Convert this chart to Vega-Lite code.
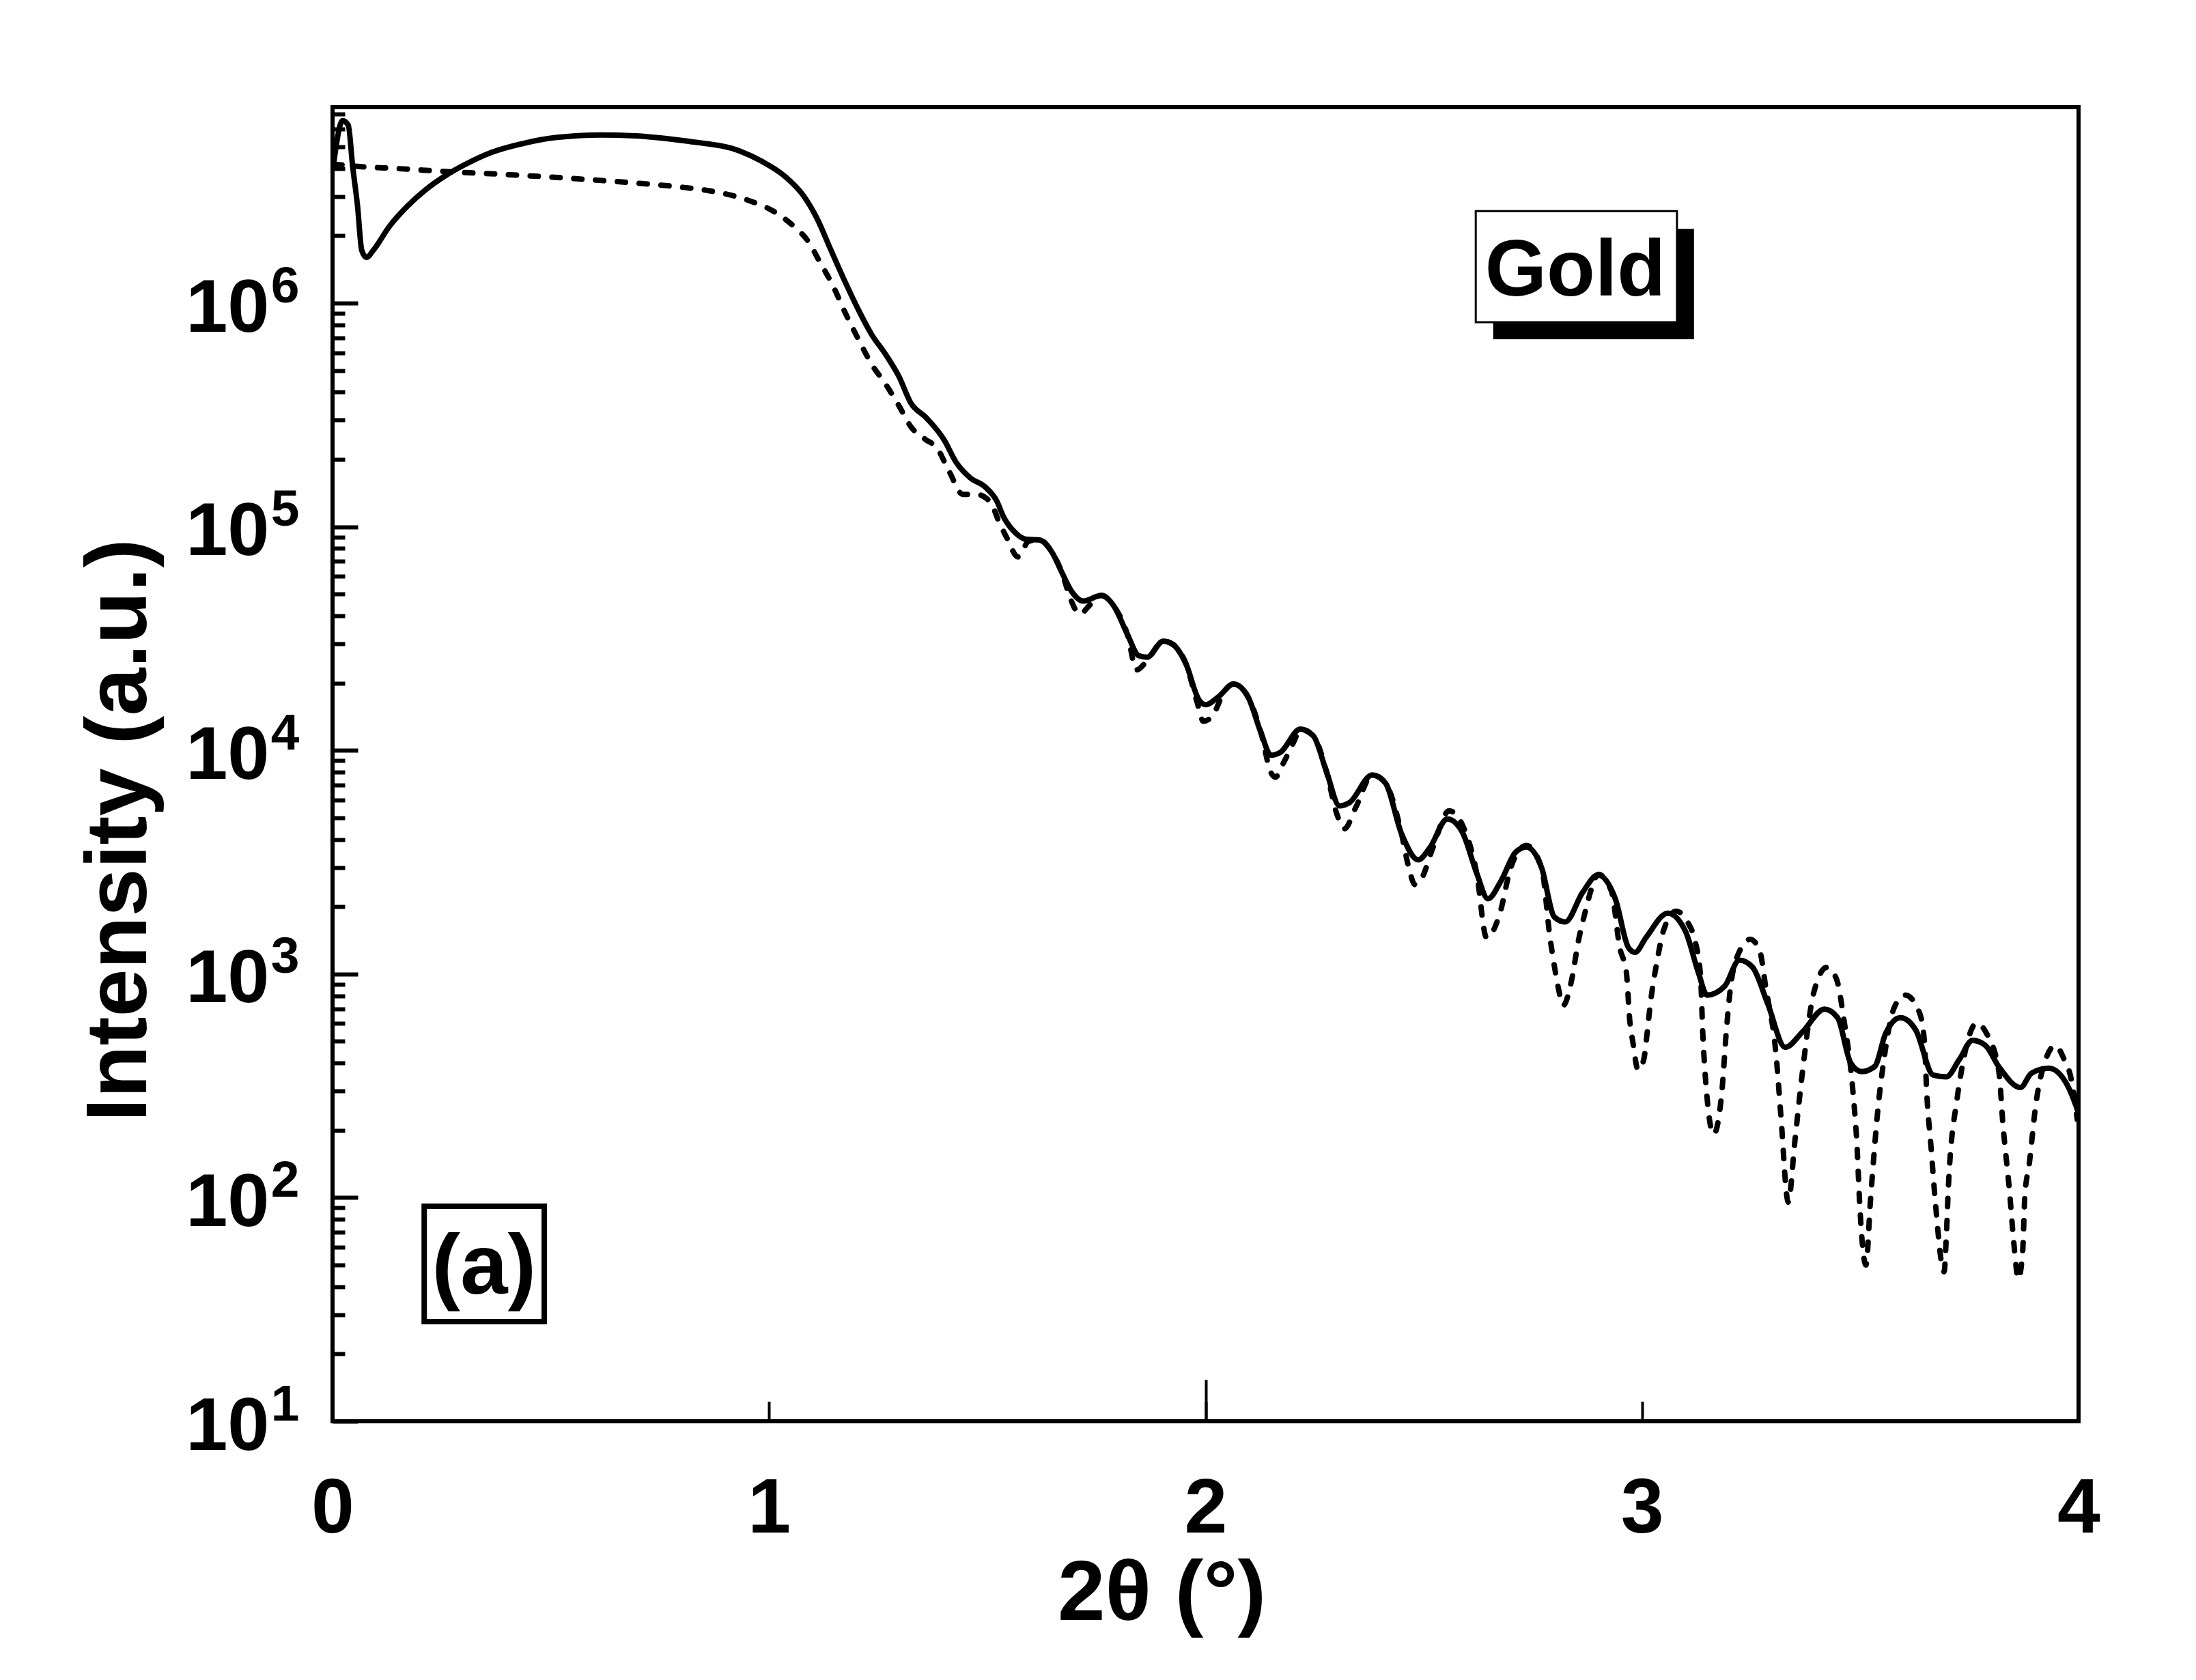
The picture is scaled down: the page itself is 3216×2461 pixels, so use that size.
{
  "$schema": "https://vega.github.io/schema/vega-lite/v6.json",
  "autosize": {"type": "none"},
  "padding": {"left": 487, "top": 157, "right": 172, "bottom": 379},
  "width": 2557,
  "height": 1925,
  "background": "white",
  "config": {
    "view": {"stroke": "black", "strokeWidth": 6},
    "font": "Liberation Sans"
  },
  "datasets": {
    "solid": [
      {"theta": 0.003, "intensity": 4270000},
      {"theta": 0.023, "intensity": 6550000},
      {"theta": 0.036, "intensity": 6250000},
      {"theta": 0.046, "intensity": 4100000},
      {"theta": 0.057, "intensity": 2750000},
      {"theta": 0.067, "intensity": 1720000},
      {"theta": 0.078, "intensity": 1600000},
      {"theta": 0.093, "intensity": 1720000},
      {"theta": 0.130, "intensity": 2200000},
      {"theta": 0.172, "intensity": 2720000},
      {"theta": 0.213, "intensity": 3210000},
      {"theta": 0.260, "intensity": 3730000},
      {"theta": 0.302, "intensity": 4150000},
      {"theta": 0.364, "intensity": 4720000},
      {"theta": 0.437, "intensity": 5180000},
      {"theta": 0.510, "intensity": 5500000},
      {"theta": 0.615, "intensity": 5650000},
      {"theta": 0.693, "intensity": 5600000},
      {"theta": 0.797, "intensity": 5350000},
      {"theta": 0.829, "intensity": 5250000},
      {"theta": 0.933, "intensity": 4790000},
      {"theta": 0.985, "intensity": 4290000},
      {"theta": 1.037, "intensity": 3680000},
      {"theta": 1.079, "intensity": 3020000},
      {"theta": 1.110, "intensity": 2390000},
      {"theta": 1.141, "intensity": 1740000},
      {"theta": 1.173, "intensity": 1260000},
      {"theta": 1.204, "intensity": 940000},
      {"theta": 1.235, "intensity": 724000},
      {"theta": 1.267, "intensity": 590000},
      {"theta": 1.298, "intensity": 468000},
      {"theta": 1.324, "intensity": 360000},
      {"theta": 1.361, "intensity": 306000},
      {"theta": 1.402, "intensity": 243000},
      {"theta": 1.428, "intensity": 195000},
      {"theta": 1.460, "intensity": 166000},
      {"theta": 1.496, "intensity": 150000},
      {"theta": 1.522, "intensity": 130000},
      {"theta": 1.536, "intensity": 112000},
      {"theta": 1.566, "intensity": 93300},
      {"theta": 1.589, "intensity": 87900},
      {"theta": 1.619, "intensity": 87300},
      {"theta": 1.649, "intensity": 76400},
      {"theta": 1.671, "intensity": 62400},
      {"theta": 1.694, "intensity": 51100},
      {"theta": 1.720, "intensity": 46500},
      {"theta": 1.761, "intensity": 49300},
      {"theta": 1.791, "intensity": 43900},
      {"theta": 1.821, "intensity": 33000},
      {"theta": 1.847, "intensity": 26500},
      {"theta": 1.866, "intensity": 26100},
      {"theta": 1.903, "intensity": 30800},
      {"theta": 1.925, "intensity": 29800},
      {"theta": 1.955, "intensity": 24400},
      {"theta": 1.985, "intensity": 16800},
      {"theta": 2.000, "intensity": 16000},
      {"theta": 2.030, "intensity": 17400},
      {"theta": 2.064, "intensity": 19800},
      {"theta": 2.097, "intensity": 17400},
      {"theta": 2.127, "intensity": 12000},
      {"theta": 2.150, "intensity": 9510},
      {"theta": 2.172, "intensity": 9820},
      {"theta": 2.217, "intensity": 12450},
      {"theta": 2.247, "intensity": 11610},
      {"theta": 2.277, "intensity": 8040},
      {"theta": 2.307, "intensity": 5650},
      {"theta": 2.329, "intensity": 5830},
      {"theta": 2.382, "intensity": 7760},
      {"theta": 2.412, "intensity": 7150},
      {"theta": 2.449, "intensity": 4240},
      {"theta": 2.487, "intensity": 3240},
      {"theta": 2.513, "intensity": 3650},
      {"theta": 2.554, "intensity": 4930},
      {"theta": 2.588, "intensity": 4320},
      {"theta": 2.621, "intensity": 2830},
      {"theta": 2.647, "intensity": 2170},
      {"theta": 2.677, "intensity": 2610},
      {"theta": 2.710, "intensity": 3500},
      {"theta": 2.735, "intensity": 3700},
      {"theta": 2.770, "intensity": 2980},
      {"theta": 2.799, "intensity": 1800},
      {"theta": 2.824, "intensity": 1710},
      {"theta": 2.864, "intensity": 2320},
      {"theta": 2.899, "intensity": 2770},
      {"theta": 2.939, "intensity": 2160},
      {"theta": 2.969, "intensity": 1310},
      {"theta": 2.984, "intensity": 1250},
      {"theta": 3.009, "intensity": 1455},
      {"theta": 3.059, "intensity": 1870},
      {"theta": 3.099, "intensity": 1560},
      {"theta": 3.129, "intensity": 1016},
      {"theta": 3.149, "intensity": 805},
      {"theta": 3.189, "intensity": 881},
      {"theta": 3.223, "intensity": 1153},
      {"theta": 3.253, "intensity": 1074},
      {"theta": 3.288, "intensity": 736},
      {"theta": 3.328, "intensity": 470},
      {"theta": 3.368, "intensity": 552},
      {"theta": 3.418, "intensity": 697},
      {"theta": 3.448, "intensity": 638},
      {"theta": 3.478, "intensity": 400},
      {"theta": 3.503, "intensity": 366},
      {"theta": 3.533, "intensity": 386},
      {"theta": 3.558, "intensity": 542},
      {"theta": 3.592, "intensity": 638},
      {"theta": 3.627, "intensity": 562},
      {"theta": 3.667, "intensity": 353},
      {"theta": 3.697, "intensity": 347},
      {"theta": 3.727, "intensity": 415},
      {"theta": 3.757, "intensity": 505},
      {"theta": 3.787, "intensity": 479},
      {"theta": 3.817, "intensity": 386},
      {"theta": 3.867, "intensity": 311},
      {"theta": 3.892, "intensity": 360},
      {"theta": 3.932, "intensity": 379},
      {"theta": 3.977, "intensity": 311},
      {"theta": 3.999, "intensity": 242}
    ],
    "dashed": [
      {"theta": 0.003, "intensity": 4180000},
      {"theta": 0.067, "intensity": 4074000},
      {"theta": 0.145, "intensity": 3999000},
      {"theta": 0.271, "intensity": 3864000},
      {"theta": 0.406, "intensity": 3750000},
      {"theta": 0.537, "intensity": 3622000},
      {"theta": 0.667, "intensity": 3475000},
      {"theta": 0.797, "intensity": 3304000},
      {"theta": 0.855, "intensity": 3199000},
      {"theta": 0.959, "intensity": 2851000},
      {"theta": 1.011, "intensity": 2570000},
      {"theta": 1.058, "intensity": 2193000},
      {"theta": 1.089, "intensity": 1897000},
      {"theta": 1.115, "intensity": 1545000},
      {"theta": 1.147, "intensity": 1189000},
      {"theta": 1.175, "intensity": 901600},
      {"theta": 1.204, "intensity": 693400},
      {"theta": 1.235, "intensity": 533300},
      {"theta": 1.267, "intensity": 434500},
      {"theta": 1.295, "intensity": 354800},
      {"theta": 1.327, "intensity": 276700},
      {"theta": 1.358, "intensity": 246000},
      {"theta": 1.384, "intensity": 225900},
      {"theta": 1.413, "intensity": 176200},
      {"theta": 1.444, "intensity": 139600},
      {"theta": 1.475, "intensity": 139600},
      {"theta": 1.506, "intensity": 129700},
      {"theta": 1.529, "intensity": 102800},
      {"theta": 1.545, "intensity": 89100},
      {"theta": 1.570, "intensity": 73300},
      {"theta": 1.595, "intensity": 86100},
      {"theta": 1.620, "intensity": 87300},
      {"theta": 1.649, "intensity": 76400},
      {"theta": 1.671, "intensity": 62400},
      {"theta": 1.690, "intensity": 47900},
      {"theta": 1.712, "intensity": 40700},
      {"theta": 1.735, "intensity": 44700},
      {"theta": 1.761, "intensity": 49300},
      {"theta": 1.791, "intensity": 43900},
      {"theta": 1.821, "intensity": 33000},
      {"theta": 1.842, "intensity": 22900},
      {"theta": 1.866, "intensity": 25200},
      {"theta": 1.903, "intensity": 30800},
      {"theta": 1.925, "intensity": 29800},
      {"theta": 1.955, "intensity": 24400},
      {"theta": 1.980, "intensity": 16600},
      {"theta": 1.995, "intensity": 13500},
      {"theta": 2.015, "intensity": 14200},
      {"theta": 2.045, "intensity": 18600},
      {"theta": 2.064, "intensity": 19800},
      {"theta": 2.097, "intensity": 17400},
      {"theta": 2.127, "intensity": 12000},
      {"theta": 2.150, "intensity": 7940},
      {"theta": 2.160, "intensity": 7590},
      {"theta": 2.180, "intensity": 8910},
      {"theta": 2.202, "intensity": 10900},
      {"theta": 2.217, "intensity": 12400},
      {"theta": 2.247, "intensity": 11600},
      {"theta": 2.277, "intensity": 8040},
      {"theta": 2.300, "intensity": 5250},
      {"theta": 2.318, "intensity": 4460},
      {"theta": 2.344, "intensity": 5550},
      {"theta": 2.382, "intensity": 7760},
      {"theta": 2.412, "intensity": 7150},
      {"theta": 2.449, "intensity": 4240},
      {"theta": 2.464, "intensity": 3080},
      {"theta": 2.480, "intensity": 2510},
      {"theta": 2.494, "intensity": 2650},
      {"theta": 2.520, "intensity": 3630},
      {"theta": 2.558, "intensity": 5370},
      {"theta": 2.590, "intensity": 4570},
      {"theta": 2.621, "intensity": 2830},
      {"theta": 2.644, "intensity": 1450},
      {"theta": 2.673, "intensity": 1830},
      {"theta": 2.700, "intensity": 3020},
      {"theta": 2.735, "intensity": 3760},
      {"theta": 2.770, "intensity": 2980},
      {"theta": 2.789, "intensity": 1460},
      {"theta": 2.799, "intensity": 1090},
      {"theta": 2.809, "intensity": 851},
      {"theta": 2.819, "intensity": 723},
      {"theta": 2.839, "intensity": 946},
      {"theta": 2.854, "intensity": 1400},
      {"theta": 2.869, "intensity": 1870},
      {"theta": 2.884, "intensity": 2400},
      {"theta": 2.900, "intensity": 2790},
      {"theta": 2.930, "intensity": 2340},
      {"theta": 2.949, "intensity": 1310},
      {"theta": 2.964, "intensity": 1020},
      {"theta": 2.972, "intensity": 615},
      {"theta": 2.979, "intensity": 495},
      {"theta": 2.991, "intensity": 372},
      {"theta": 3.004, "intensity": 415},
      {"theta": 3.012, "intensity": 552},
      {"theta": 3.019, "intensity": 736},
      {"theta": 3.034, "intensity": 1130},
      {"theta": 3.049, "intensity": 1560},
      {"theta": 3.078, "intensity": 1910},
      {"theta": 3.105, "intensity": 1700},
      {"theta": 3.119, "intensity": 1460},
      {"theta": 3.134, "intensity": 982},
      {"theta": 3.139, "intensity": 552},
      {"theta": 3.149, "intensity": 279},
      {"theta": 3.164, "intensity": 192},
      {"theta": 3.183, "intensity": 300},
      {"theta": 3.193, "intensity": 552},
      {"theta": 3.203, "intensity": 881},
      {"theta": 3.223, "intensity": 1260},
      {"theta": 3.248, "intensity": 1430},
      {"theta": 3.270, "intensity": 1260},
      {"theta": 3.283, "intensity": 881},
      {"theta": 3.308, "intensity": 415},
      {"theta": 3.318, "intensity": 233},
      {"theta": 3.335, "intensity": 95.5},
      {"theta": 3.350, "intensity": 178},
      {"theta": 3.368, "intensity": 372},
      {"theta": 3.393, "intensity": 820},
      {"theta": 3.423, "intensity": 1070},
      {"theta": 3.445, "intensity": 955},
      {"theta": 3.463, "intensity": 615},
      {"theta": 3.483, "intensity": 300},
      {"theta": 3.493, "intensity": 163},
      {"theta": 3.498, "intensity": 98.9},
      {"theta": 3.513, "intensity": 50},
      {"theta": 3.523, "intensity": 95.3},
      {"theta": 3.543, "intensity": 279},
      {"theta": 3.553, "intensity": 400},
      {"theta": 3.578, "intensity": 710},
      {"theta": 3.603, "intensity": 805},
      {"theta": 3.635, "intensity": 676},
      {"theta": 3.647, "intensity": 495},
      {"theta": 3.652, "intensity": 300},
      {"theta": 3.662, "intensity": 169},
      {"theta": 3.672, "intensity": 95.3},
      {"theta": 3.692, "intensity": 46.6},
      {"theta": 3.697, "intensity": 66.7},
      {"theta": 3.702, "intensity": 114},
      {"theta": 3.722, "intensity": 279},
      {"theta": 3.732, "intensity": 372},
      {"theta": 3.767, "intensity": 604},
      {"theta": 3.787, "intensity": 552},
      {"theta": 3.817, "intensity": 372},
      {"theta": 3.827, "intensity": 210},
      {"theta": 3.842, "intensity": 106},
      {"theta": 3.852, "intensity": 61.9},
      {"theta": 3.862, "intensity": 43.3},
      {"theta": 3.872, "intensity": 57.7},
      {"theta": 3.877, "intensity": 102},
      {"theta": 3.887, "intensity": 141},
      {"theta": 3.902, "intensity": 260},
      {"theta": 3.922, "intensity": 400},
      {"theta": 3.947, "intensity": 479},
      {"theta": 3.967, "intensity": 415},
      {"theta": 3.982, "intensity": 347},
      {"theta": 3.997, "intensity": 224}
    ]
  },
  "layer": [
    {
      "data": {"name": "solid"},
      "mark": {"type": "line", "color": "black", "strokeWidth": 8, "interpolate": "monotone", "clip": true, "strokeJoin": "round"},
      "encoding": {
        "x": {
          "field": "theta",
          "type": "quantitative",
          "scale": {"domain": [0, 4], "nice": false, "zero": false},
          "axis": {
            "orient": "bottom",
            "values": [0, 1, 2, 3, 4],
            "format": "d",
            "domain": false,
            "grid": false,
            "tickSize": -29,
            "tickWidth": 4,
            "tickColor": "black",
            "labelFont": "Liberation Sans",
            "labelFontWeight": "bold",
            "labelFontSize": 113,
            "labelColor": "black",
            "labelBaseline": "alphabetic",
            "labelPadding": 191,
            "labelFlush": false,
            "labelOverlap": false,
            "title": "2θ (°)",
            "titleFont": "Liberation Sans",
            "titleFontWeight": "bold",
            "titleFontSize": 125,
            "titleColor": "black",
            "titleX": 1214,
            "titleY": 290,
            "titleBaseline": "alphabetic"
          }
        },
        "y": {
          "field": "intensity",
          "type": "quantitative",
          "scale": {"type": "log", "domain": [10, 7520000], "nice": false},
          "axis": {
            "orient": "left",
            "values": [10, 100, 1000, 10000, 100000, 1000000],
            "labelExpr": "'10'",
            "domain": false,
            "grid": false,
            "tickSize": -37,
            "tickWidth": 6,
            "tickColor": "black",
            "labelFont": "Liberation Sans",
            "labelFontWeight": "bold",
            "labelFontSize": 110,
            "labelColor": "black",
            "labelPadding": 130,
            "labelOffset": 8,
            "labelFlush": false,
            "labelOverlap": false,
            "title": "Intensity (a.u.)",
            "titleFont": "Liberation Sans",
            "titleFontWeight": "bold",
            "titleFontSize": 126,
            "titleColor": "black",
            "titleAngle": 270,
            "titleX": -274,
            "titleY": 1059,
            "titleBaseline": "alphabetic"
          }
        }
      }
    },
    {
      "data": {"name": "dashed"},
      "mark": {"type": "line", "color": "black", "strokeWidth": 8, "strokeDash": [12, 20], "strokeCap": "round", "interpolate": "monotone", "clip": true},
      "encoding": {
        "x": {
          "field": "theta",
          "type": "quantitative",
          "axis": {
            "orient": "bottom",
            "values": [2],
            "domain": false,
            "grid": false,
            "labels": false,
            "tickSize": -61,
            "tickWidth": 4,
            "tickColor": "black",
            "title": null
          }
        },
        "y": {
          "field": "intensity",
          "type": "quantitative",
          "axis": {
            "orient": "left",
            "values": [20, 30, 40, 50, 60, 70, 80, 90, 200, 300, 400, 500, 600, 700, 800, 900, 2000, 3000, 4000, 5000, 6000, 7000, 8000, 9000, 20000, 30000, 40000, 50000, 60000, 70000, 80000, 90000, 200000, 300000, 400000, 500000, 600000, 700000, 800000, 900000, 2000000, 3000000, 4000000, 5000000, 6000000, 7000000],
            "domain": false,
            "grid": false,
            "labels": false,
            "tickSize": -18,
            "tickWidth": 6,
            "tickColor": "black",
            "title": null
          }
        }
      }
    },
    {
      "data": {"values": [{"x": 2.659, "x2": 3.119, "y": 689000, "y2": 2150000}]},
      "mark": {"type": "rect", "color": "black"},
      "encoding": {
        "x": {"field": "x", "type": "quantitative", "axis": null},
        "x2": {"field": "x2"},
        "y": {
          "field": "y",
          "type": "quantitative",
          "axis": {
            "orient": "left",
            "values": [10, 100, 1000, 10000, 100000, 1000000],
            "labelExpr": "format(log(datum.value) / LN10, '.0f')",
            "domain": false,
            "grid": false,
            "ticks": false,
            "tickSize": 0,
            "labelFont": "Liberation Sans",
            "labelFontWeight": "bold",
            "labelFontSize": 75,
            "labelColor": "black",
            "labelPadding": 49,
            "labelOffset": -25,
            "labelFlush": false,
            "labelOverlap": false,
            "title": null
          }
        },
        "y2": {"field": "y2"}
      }
    },
    {
      "data": {"values": [{"x": 2.619, "x2": 3.080, "y": 822000, "y2": 2580000}]},
      "mark": {"type": "rect", "fill": "white", "stroke": "black", "strokeWidth": 3},
      "encoding": {
        "x": {"field": "x", "type": "quantitative", "axis": null},
        "x2": {"field": "x2"},
        "y": {"field": "y", "type": "quantitative", "axis": null},
        "y2": {"field": "y2"}
      }
    },
    {
      "data": {"values": [{"x": 0.21, "x2": 0.485, "y": 27.9, "y2": 91.5}]},
      "mark": {"type": "rect", "fill": "white", "stroke": "black", "strokeWidth": 8},
      "encoding": {
        "x": {"field": "x", "type": "quantitative", "axis": null},
        "x2": {"field": "x2"},
        "y": {"field": "y", "type": "quantitative", "axis": null},
        "y2": {"field": "y2"}
      }
    },
    {
      "data": {"values": [
        {"x": 2.847, "y": 1080000, "label": "Gold", "size": 116},
        {"x": 0.347, "y": 37.2, "label": "(a)", "size": 125}
      ]},
      "mark": {"type": "text", "font": "Liberation Sans", "fontWeight": "bold", "color": "black", "align": "center", "baseline": "alphabetic"},
      "encoding": {
        "x": {"field": "x", "type": "quantitative", "axis": null},
        "y": {"field": "y", "type": "quantitative", "axis": null},
        "text": {"field": "label"},
        "size": {"field": "size", "type": "quantitative", "scale": null}
      }
    }
  ],
  "resolve": {"axis": {"x": "independent", "y": "independent"}}
}
